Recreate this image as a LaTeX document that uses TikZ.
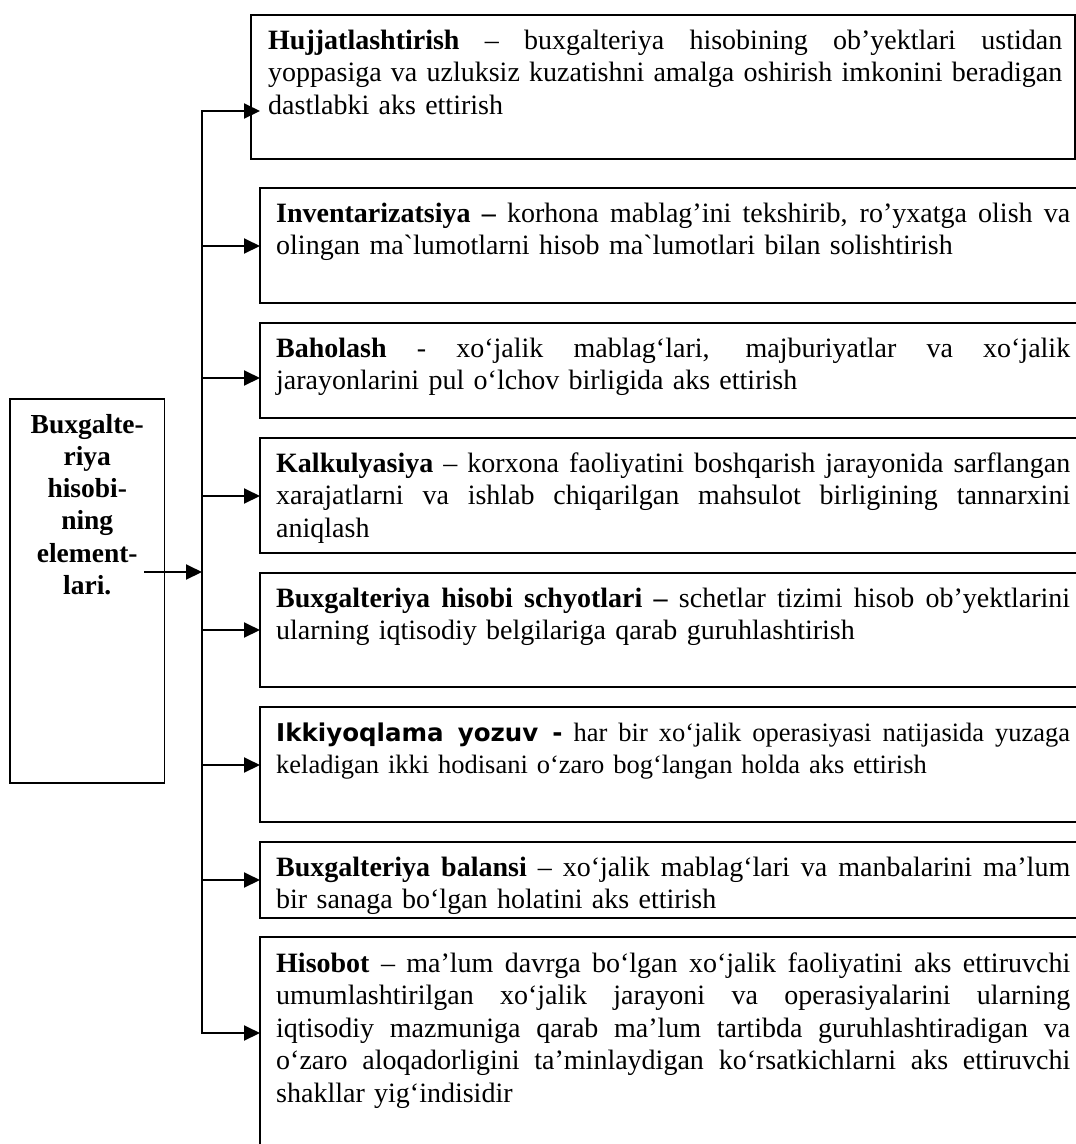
\documentclass[tikz,border=0pt]{standalone}
\usepackage{fontspec}
\setmainfont{Liberation Serif}[Ligatures=TeXOff]
\newfontfamily\ikkifont{DejaVu Sans}[Ligatures=TeXOff]
\usepackage{tikz}
\usetikzlibrary{arrows.meta, calc}
\newcommand{\fullline}[1]{\leavevmode\hbox to 794pt{\spaceskip=0pt\xspaceskip=0pt\relax #1}\\}

\begin{document}
\begin{tikzpicture}[x=1pt, y=-1pt,
	box/.style={draw, line width=1.3pt, inner sep=0pt, outer sep=0pt, anchor=north west},
	txt/.style={inner sep=0pt, anchor=base west, text width=794pt, align=left, font=\fontsize{28}{32.5}\selectfont},
	arr/.style={line width=2pt, -{Triangle[length=16pt, width=15pt]}}]

	\useasboundingbox (0,0) rectangle (1076,1144);
	\clip (0,0) rectangle (1076,1144);

	\node[box, minimum width=154.5pt, minimum height=384pt] (lb) at (10,399) {};
	\node[box, minimum width=824pt, minimum height=144pt] (b1) at (251,15) {};
	\node[box, minimum width=830pt, minimum height=115pt] (b2) at (260,188) {};
	\node[box, minimum width=830pt, minimum height=95pt] (b3) at (260,323) {};
	\node[box, minimum width=830pt, minimum height=115pt] (b4) at (260,438) {};
	\node[box, minimum width=830pt, minimum height=114pt] (b5) at (260,573) {};
	\node[box, minimum width=830pt, minimum height=115pt] (b6) at (260,707) {};
	\node[box, minimum width=830pt, minimum height=76pt] (b7) at (260,842) {};
	\node[box, minimum width=830pt, minimum height=230pt] (b8) at (260,937) {};

	\node[txt, anchor=base, text width=150pt, align=center, font=\bfseries\fontsize{27.5}{32.3}\selectfont] (lt) at ($ (lb.north)+(0,34) $)
		{Buxgalte-\\riya\\hisobi-\\ning\\element-\\lari.};

	\node[txt] (t1) at ($ (b1.north west)+(17,34) $) {%
		\fullline{\textbf{Hujjatlashtirish} – buxgalteriya hisobining ob’yektlari ustidan}
		\fullline{yoppasiga va uzluksiz kuzatishni amalga oshirish imkonini beradigan}
		dastlabki aks ettirish};
	\node[txt] (t2) at ($ (b2.north west)+(16,34) $) {%
		\fullline{\textbf{Inventarizatsiya –} korhona mablag’ini tekshirib, ro’yxatga olish va}
		olingan ma`lumotlarni hisob ma`lumotlari bilan solishtirish};
	\node[txt] (t3) at ($ (b3.north west)+(16,34) $) {%
		\fullline{\textbf{Baholash} - xo‘jalik mablag‘lari, majburiyatlar va xo‘jalik}
		jarayonlarini pul o‘lchov birligida aks ettirish};
	\node[txt] (t4) at ($ (b4.north west)+(16,34) $) {%
		\fullline{\textbf{Kalkulyasiya} – korxona faoliyatini boshqarish jarayonida sarflangan}
		\fullline{xarajatlarni va ishlab chiqarilgan mahsulot birligining tannarxini}
		aniqlash};
	\node[txt] (t5) at ($ (b5.north west)+(16,34) $) {%
		\fullline{\textbf{Buxgalteriya hisobi schyotlari –} schetlar tizimi hisob ob’yektlarini}
		ularning iqtisodiy belgilariga qarab guruhlashtirish};
	\node[txt, font=\fontsize{26.5}{32.3}\selectfont] (t6) at ($ (b6.north west)+(16,34) $) {%
		\fullline{{\ikkifont\bfseries\fontsize{24.5}{32.3}\selectfont Ikkiyoqlama yozuv -} har bir xo‘jalik operasiyasi natijasida yuzaga}
		keladigan ikki hodisani o‘zaro bog‘langan holda aks ettirish};
	\node[txt] (t7) at ($ (b7.north west)+(16,34) $) {%
		\fullline{\textbf{Buxgalteriya balansi} – xo‘jalik mablag‘lari va manbalarini ma’lum}
		bir sanaga bo‘lgan holatini aks ettirish};
	\node[txt] (t8) at ($ (b8.north west)+(16,35) $) {%
		\fullline{\textbf{Hisobot} – ma’lum davrga bo‘lgan xo‘jalik faoliyatini aks ettiruvchi}
		\fullline{umumlashtirilgan xo‘jalik jarayoni va operasiyalarini ularning}
		\fullline{iqtisodiy mazmuniga qarab ma’lum tartibda guruhlashtiradigan va}
		\fullline{o‘zaro aloqadorligini ta’minlaydigan ko‘rsatkichlarni aks ettiruvchi}
		shakllar yig‘indisidir};

	% bus and arrows
	\foreach \i/\yy in {1/111, 2/246, 3/378, 4/496, 5/630, 6/765, 7/880, 8/1033}
		\coordinate (j\i) at (202,\yy);
	\coordinate (jm) at (202,572);
	\coordinate (s) at (144,572);

	\draw[line width=2pt, line cap=rect] (j1) -- (j8);
	\draw[arr] (s) -- (jm);
	\draw[arr] (j1) -- ($ (j1 -| b1.west)+(9,0) $);
	\foreach \i in {2,...,8}
		\draw[arr] (j\i) -- (j\i -| b\i.west);

\end{tikzpicture}
\end{document}
